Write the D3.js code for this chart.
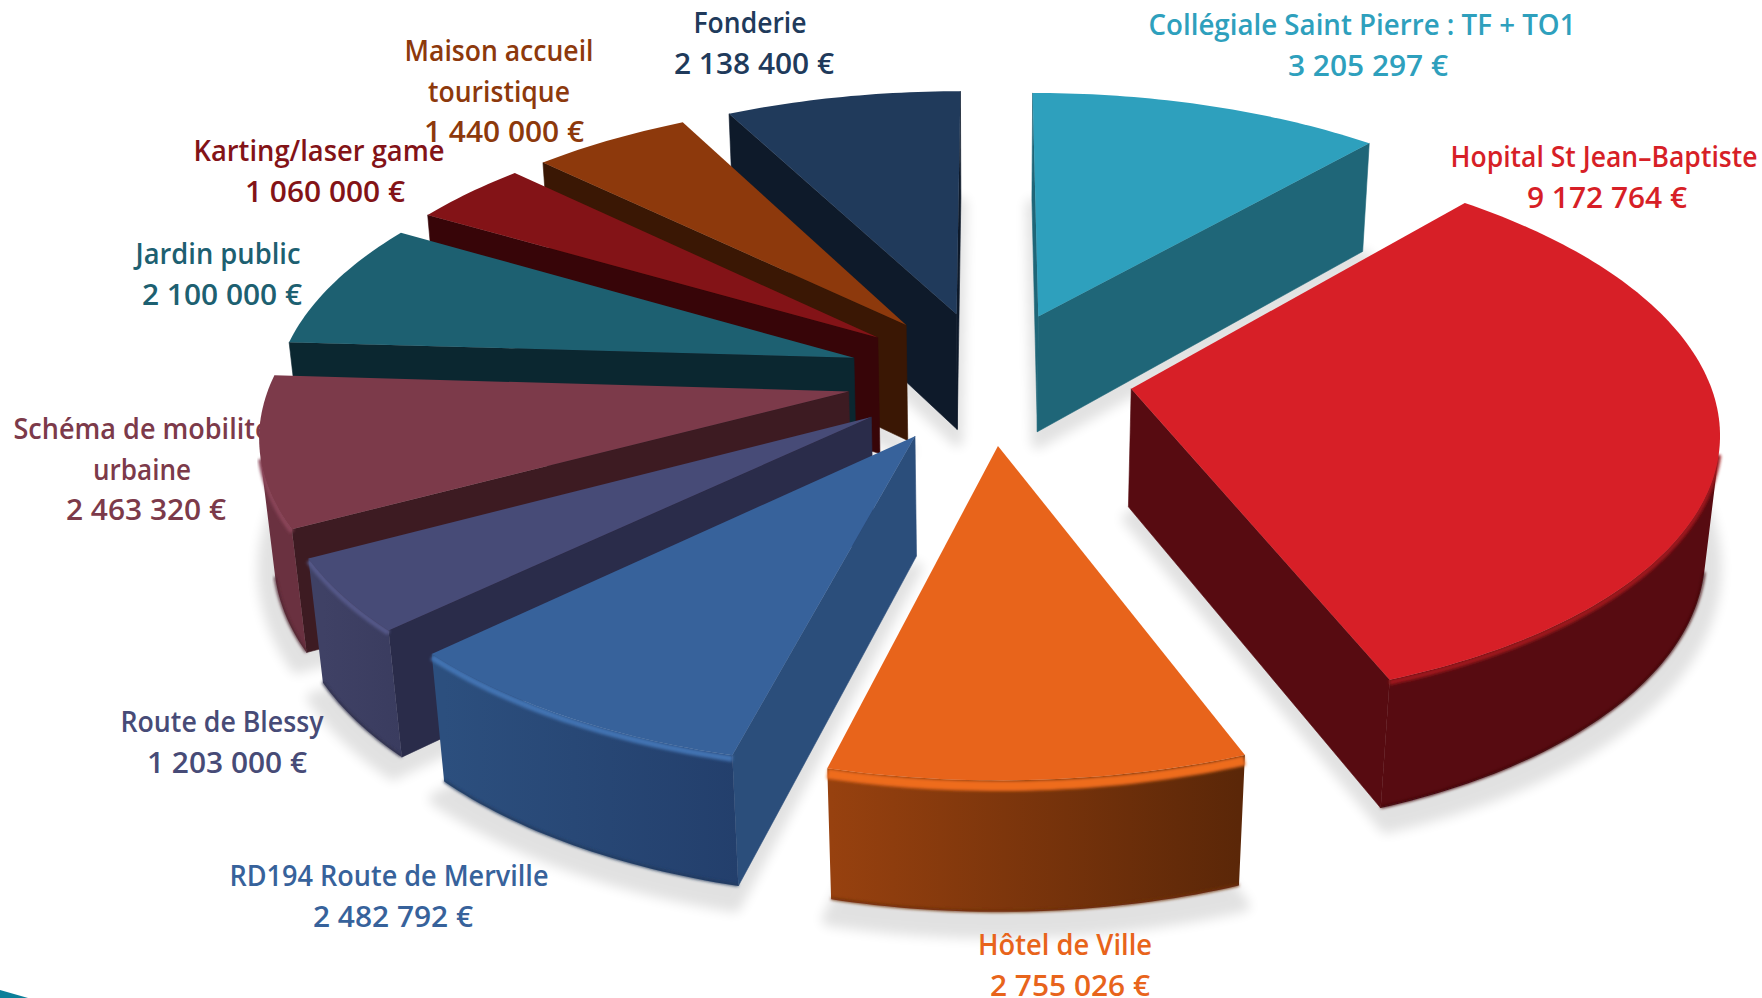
<!DOCTYPE html>
<html><head><meta charset="utf-8">
<style>html,body{margin:0;background:#fff}svg{display:block}text{font-family:"Open Sans",sans-serif;font-weight:600;text-anchor:middle}</style>
<script src="https://cdn.jsdelivr.net/npm/d3@7"></script></head><body>
<script>
const categories=["Collégiale Saint Pierre : TF + TO1","Hopital St Jean-Baptiste","Hôtel de Ville","RD194 Route de Merville","Route de Blessy","Schéma de mobilité urbaine","Jardin public","Karting/laser game","Maison accueil touristique","Fonderie"];
const values=[3205297,9172764,2755026,2482792,1203000,2463320,2100000,1060000,1440000,2138400];
const topColors=["#2EA0BD","#D71F27","#E8641B","#37629B","#474B77","#7C3A4A","#1D6071","#831317","#8D390C","#203A5B"];
const sideColors=["#1F6678","#570B11","#97410F","#2B4E7B","#2A2C4A","#3D1B22","#0B2730","#370508","#3A1704","#0E1A2A"];
const rimFrom=["#1F6678","#570B11","#5B2708","#233F6C","#3A3C5F","#6A3140","#0B2730","#370508","#3A1704","#0E1A2A"];
const rimTo=["#1F6678","#570B11","#97410F","#2C4F7E","#3F4165","#6A3140","#0B2730","#370508","#3A1704","#0E1A2A"];
const bevelColors=[null,"#A0151C","#EE6C1F","#4273B2","#555989","#8A4558",null,null,null,null];
const bevelWidths=[0,5,10,6,5,5,0,0,0,0];
const labelLines=[["Collégiale Saint Pierre : TF + TO1"],["Hopital St Jean–Baptiste"],["Hôtel de Ville"],["RD194 Route de Merville"],["Route de Blessy"],["Schéma de mobilité","urbaine"],["Jardin public"],["Karting/laser game"],["Maison accueil","touristique"],["Fonderie"]];
const labelX=[1362,1604,1065,389,222,142,218,319,499,750];
const valueX=[1368,1607,1070,393,227,146,222,325,504,754];
const labelTop=[35,167,955,886,732,439,264,161,61,33];
const nameWidths=[[427],[307],[174],[319],[203],[257,98],[165],[251],[189,142],[113]];
const drawOrder=[9,8,7,6,5,4,3,0,1,2];

const W=1762,H=998,cx=989.5,cy=377,R=577,flat=.466,depth=120,persp=.135,zPersp=.02,explode=.248,lineGap=40.5;
const fmt=d3.formatLocale({thousands:"\u00a0",grouping:[3],decimal:","}).format(",d");
const svg=d3.select("body").append("svg").attr("width",W).attr("height",H);
const defs=svg.append("defs");
defs.append("filter").attr("id","sh").attr("x","-20%").attr("y","-20%").attr("width","140%").attr("height","140%").append("feGaussianBlur").attr("stdDeviation",6);
defs.append("filter").attr("id","bv").attr("x","-10%").attr("y","-30%").attr("width","120%").attr("height","160%").append("feGaussianBlur").attr("stdDeviation",1.6);

const pie=d3.pie().sort(null).value(d=>d).startAngle(0).endAngle(2*Math.PI);
const arcs=pie(values);
const project=(x,y,z)=>{const v=y/R,s=1/(1-persp*v+zPersp*z);return [cx+x*s,cy+(flat*y+depth*z)*s];};
const line=d3.line();
function geom(a,rad=R){
  const mid=(a.startAngle+a.endAngle)/2,ox=R*explode*Math.sin(mid),oy=-R*explode*Math.cos(mid);
  const n=Math.max(4,Math.ceil((a.endAngle-a.startAngle)*180/Math.PI));
  const angs=d3.range(n+1).map(i=>a.startAngle+(a.endAngle-a.startAngle)*i/n);
  const at=(t,z)=>project(ox+rad*Math.sin(t),oy-rad*Math.cos(t),z);
  return {tip:z=>project(ox,oy,z),angs,at};
}
// soft ground shadow
svg.append("g").attr("filter","url(#sh)").attr("opacity",.115).selectAll("path").data(arcs).join("path")
 .attr("d",a=>{const g=geom(a,R*1.02);return line([g.tip(1.1),...g.angs.map(t=>g.at(t,1.1))])+"Z";})
 .attr("fill","#000").attr("stroke","#000").attr("stroke-width",12).attr("stroke-linejoin","round");

// labels sit under the slices
const labels=svg.append("g");
categories.forEach((c,i)=>{
  const lines=labelLines[i];
  lines.forEach((t,k)=>labels.append("text").attr("x",labelX[i]).attr("y",labelTop[i]+k*lineGap).attr("font-size",28.5)
    .attr("fill",topColors[i]).attr("textLength",nameWidths[i][k]).attr("lengthAdjust","spacingAndGlyphs").text(t));
  labels.append("text").attr("x",valueX[i]).attr("y",labelTop[i]+lines.length*lineGap).attr("font-size",28.5)
    .attr("fill",topColors[i]).attr("textLength",160).attr("lengthAdjust","spacingAndGlyphs").text(fmt(values[i])+" €");
});

const slices=svg.append("g");
drawOrder.forEach(i=>{
  const a=arcs[i],g=geom(a),G=slices.append("g");
  const quad=(p,q,z0=0,z1=1)=>[p(z0),q(z0),q(z1),p(z1)];
  const vis=q=>d3.polygonArea(q)>0;
  const first=z=>g.at(g.angs[0],z),last=z=>g.at(g.angs[g.angs.length-1],z);
  // radial walls
  const w0=quad(g.tip,first),w1=quad(last,g.tip);
  if(vis(w0))G.append("path").attr("d",line(w0)+"Z").attr("fill",sideColors[i]).attr("stroke",sideColors[i]).attr("stroke-width",.6);
  if(vis(w1))G.append("path").attr("d",line(w1)+"Z").attr("fill",sideColors[i]).attr("stroke",sideColors[i]).attr("stroke-width",.6);
  // outer wall, as one shape with a gradient along the arc
  const shown=g.angs.filter((t,k)=>{
    const prev=g.angs[k-1],next=g.angs[k+1];
    return (next!==undefined&&vis(quad(z=>g.at(t,z),z=>g.at(next,z))))||(prev!==undefined&&vis(quad(z=>g.at(prev,z),z=>g.at(t,z))));
  });
  if(shown.length>1){
    const p0=g.at(shown[0],1),p1=g.at(shown[shown.length-1],1),id="rim"+i;
    const lg=defs.append("linearGradient").attr("id",id).attr("gradientUnits","userSpaceOnUse")
      .attr("x1",p0[0]).attr("y1",0).attr("x2",p1[0]).attr("y2",0);
    lg.append("stop").attr("offset",0).attr("stop-color",rimFrom[i]);
    lg.append("stop").attr("offset",1).attr("stop-color",rimTo[i]);
    const poly=[...shown.map(t=>g.at(t,0)),...shown.slice().reverse().map(t=>g.at(t,1))];
    G.append("path").attr("d",line(poly)+"Z").attr("fill",`url(#${id})`);
    if(bevelColors[i]){
      G.append("path").attr("d",line(shown.map(t=>g.at(t,.995)))).attr("fill","none")
       .attr("stroke",d3.color(rimTo[i]).darker(.9)).attr("stroke-width",2.5).attr("filter","url(#bv)");
    }
  }
  // top face
  const top=[g.tip(0),...g.angs.map(t=>g.at(t,0))];
  if(bevelColors[i]&&shown.length>1){
    const z=bevelWidths[i]/2/depth;
    G.append("path").attr("d",line(shown.map(t=>g.at(t,z)))).attr("fill","none").attr("stroke",bevelColors[i]).attr("stroke-width",bevelWidths[i]).attr("filter","url(#bv)");
  }
  G.append("path").attr("d",line(top)+"Z").attr("fill",topColors[i]);
});
// corner ornament of the original slide
svg.append("path").attr("d","M0,990 L28,998 L0,998Z").attr("fill","#0C7F99");
</script></body></html>
